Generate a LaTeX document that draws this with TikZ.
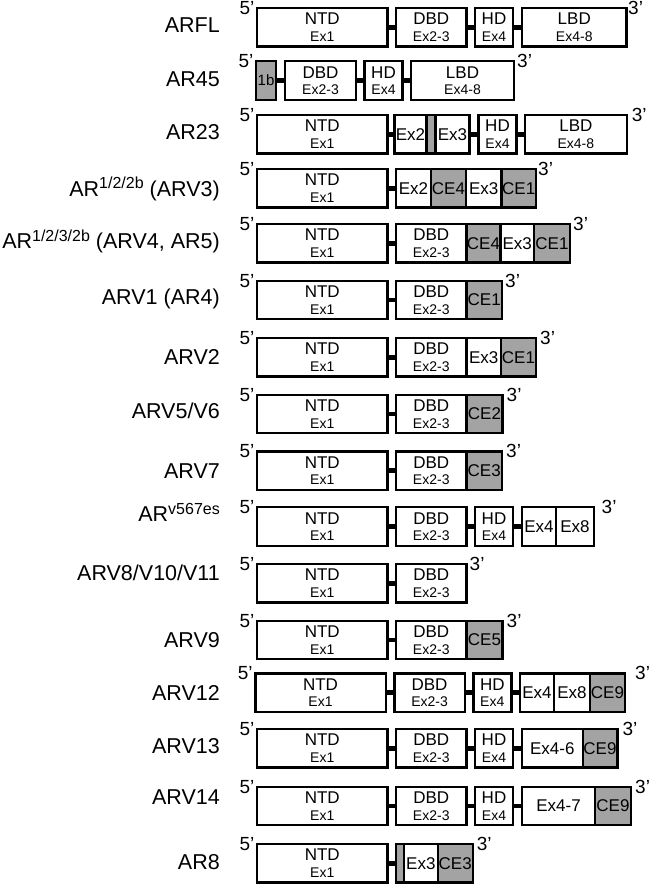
\documentclass[tikz,border=0pt]{standalone}
\usepackage{fontspec}
\setmainfont{Liberation Sans}
\usetikzlibrary{positioning}
\definecolor{cegray}{RGB}{163,163,163}
\newcommand{\twoline}[2]{#1\\{\fontsize{14}{16.5}\selectfont #2}}
\newcommand{\sups}[1]{\raisebox{7.5pt}{\fontsize{16}{16}\selectfont #1}}

\begin{document}
\begin{tikzpicture}[x=1pt,y=-1pt,
    seg/.style={rectangle, draw, line width=2.4pt, minimum height=38.5pt, inner sep=0pt, outer sep=0pt, align=center, font=\fontsize{17}{16.5}\selectfont},
    cseg/.style={seg, fill=cegray},
    link/.style={line width=4.5pt},
    prime/.style={inner sep=0pt, font=\fontsize{19}{19}\selectfont},
    variant/.style={inner sep=0pt, anchor=base east, font=\fontsize{21.5}{21.5}\selectfont}]

    \useasboundingbox (0,0) rectangle (650,885);

    % ARFL
    \node[variant] (lab1) at (220,32.3) {ARFL};
    \node[seg, minimum width=130.5pt, anchor=west] (ntd1) at (257,27.3) {\twoline{NTD}{Ex1}};
    \node[seg, minimum width=70.5pt] (dbd1) [right=8.5pt of ntd1] {\twoline{DBD}{Ex2-3}};
    \node[seg, minimum width=38pt] (hd1) [right=8.5pt of dbd1] {\twoline{HD}{Ex4}};
    \node[seg, minimum width=104.5pt] (lbd1) [right=9pt of hd1] {\twoline{LBD}{Ex4-8}};
    \node[prime, anchor=east] (five1) at ([xshift=-2.5pt]ntd1.north west) {5’};
    \node[prime, anchor=west] (three1) at ([xshift=1.5pt]lbd1.north east) {3’};
    \path[link] (ntd1) edge (dbd1) (dbd1) edge (hd1) (hd1) edge (lbd1);

    % AR45
    \node[variant] (lab2) at (220,87) {AR45};
    \node[cseg, minimum width=20pt, anchor=west, font=\fontsize{15}{15}\selectfont] (b2) at (256,80.5) {1b};
    \node[seg, minimum width=71pt] (dbd2) [right=9pt of b2] {\twoline{DBD}{Ex2-3}};
    \node[seg, minimum width=38pt] (hd2) [right=8.5pt of dbd2] {\twoline{HD}{Ex4}};
    \node[seg, minimum width=103pt] (lbd2) [right=8.5pt of hd2] {\twoline{LBD}{Ex4-8}};
    \node[prime, anchor=east] (five2) at ([xshift=-2.5pt]b2.north west) {5’};
    \node[prime, anchor=west] (three2) at ([xshift=3pt]lbd2.north east) {3’};
    \path[link] (b2) edge (dbd2) (dbd2) edge (hd2) (hd2) edge (lbd2);

    % AR23
    \node[variant] (lab3) at (220,139.5) {AR23};
    \node[seg, minimum width=130.5pt, anchor=west] (ntd3) at (257,134.3) {\twoline{NTD}{Ex1}};
    \node[seg, minimum width=32pt] (exa3) [right=7pt of ntd3] {Ex2};
    \node[cseg, minimum width=9pt] (g3) [right=0pt of exa3] {};
    \node[seg, minimum width=34pt] (exb3) [right=0pt of g3] {Ex3};
    \node[seg, minimum width=38pt] (hd3) [right=9pt of exb3] {\twoline{HD}{Ex4}};
    \node[seg, minimum width=101.7pt] (lbd3) [right=8.5pt of hd3] {\twoline{LBD}{Ex4-8}};
    \node[prime, anchor=east] (five3) at ([xshift=-2.5pt]ntd3.north west) {5’};
    \node[prime, anchor=west] (three3) at ([xshift=5pt]lbd3.north east) {3’};
    \path[link] (ntd3) edge (exa3) (exb3) edge (hd3) (hd3) edge (lbd3);

    % AR1/2/2b
    \node[variant] (lab4) at (220,196.5) {AR\sups{1/2/2b} (ARV3)};
    \node[seg, minimum width=130.5pt, anchor=west] (ntd4) at (257,188.3) {\twoline{NTD}{Ex1}};
    \node[seg, minimum width=35pt] (exa4) [right=8.5pt of ntd4] {Ex2};
    \node[cseg, minimum width=35pt] (cea4) [right=0pt of exa4] {CE4};
    \node[seg, minimum width=35.5pt] (exb4) [right=0pt of cea4] {Ex3};
    \node[cseg, minimum width=34.5pt] (ceb4) [right=0pt of exb4] {CE1};
    \node[prime, anchor=east] (five4) at ([xshift=-2.5pt]ntd4.north west) {5’};
    \node[prime, anchor=west] (three4) at ([xshift=2pt]ceb4.north east) {3’};
    \path[link] (ntd4) edge (exa4);

    % AR1/2/3/2b
    \node[variant] (lab5) at (220,248.5) {AR\sups{1/2/3/2b} (ARV4, AR5)};
    \node[seg, minimum width=130.5pt, anchor=west] (ntd5) at (257,243.3) {\twoline{NTD}{Ex1}};
    \node[seg, minimum width=70.5pt] (dbd5) [right=8.5pt of ntd5] {\twoline{DBD}{Ex2-3}};
    \node[cseg, minimum width=34pt] (cea5) [right=0pt of dbd5] {CE4};
    \node[seg, minimum width=33.5pt] (exb5) [right=0pt of cea5] {Ex3};
    \node[cseg, minimum width=36pt] (ceb5) [right=0pt of exb5] {CE1};
    \node[prime, anchor=east] (five5) at ([xshift=-2.5pt]ntd5.north west) {5’};
    \node[prime, anchor=west] (three5) at ([xshift=3pt]ceb5.north east) {3’};
    \path[link] (ntd5) edge (dbd5);

    % ARV1
    \node[variant] (lab6) at (220,304) {ARV1 (AR4)};
    \node[seg, minimum width=130.5pt, anchor=west] (ntd6) at (257,300) {\twoline{NTD}{Ex1}};
    \node[seg, minimum width=70.5pt] (dbd6) [right=8.5pt of ntd6] {\twoline{DBD}{Ex2-3}};
    \node[cseg, minimum width=35.5pt] (ce6) [right=0pt of dbd6] {CE1};
    \node[prime, anchor=east] (five6) at ([xshift=-2.5pt]ntd6.north west) {5’};
    \node[prime, anchor=west] (three6) at ([xshift=3pt]ce6.north east) {3’};
    \path[link] (ntd6) edge (dbd6);

    % ARV2
    \node[variant] (lab7) at (220,364.5) {ARV2};
    \node[seg, minimum width=130.5pt, anchor=west] (ntd7) at (257,357.3) {\twoline{NTD}{Ex1}};
    \node[seg, minimum width=70.5pt] (dbd7) [right=8.5pt of ntd7] {\twoline{DBD}{Ex2-3}};
    \node[seg, minimum width=34.5pt] (ex7) [right=0pt of dbd7] {Ex3};
    \node[cseg, minimum width=35pt] (ce7) [right=0pt of ex7] {CE1};
    \node[prime, anchor=east] (five7) at ([xshift=-2.5pt]ntd7.north west) {5’};
    \node[prime, anchor=west] (three7) at ([xshift=4pt]ce7.north east) {3’};
    \path[link] (ntd7) edge (dbd7);

    % ARV5/V6
    \node[variant] (lab8) at (220,418.6) {ARV5/V6};
    \node[seg, minimum width=130.5pt, anchor=west] (ntd8) at (257,414) {\twoline{NTD}{Ex1}};
    \node[seg, minimum width=70.5pt] (dbd8) [right=8.5pt of ntd8] {\twoline{DBD}{Ex2-3}};
    \node[cseg, minimum width=36pt] (ce8) [right=0pt of dbd8] {CE2};
    \node[prime, anchor=east] (five8) at ([xshift=-2.5pt]ntd8.north west) {5’};
    \node[prime, anchor=west] (three8) at ([xshift=4pt]ce8.north east) {3’};
    \path[link] (ntd8) edge (dbd8);

    % ARV7
    \node[variant] (lab9) at (220,478.6) {ARV7};
    \node[seg, minimum width=130.5pt, anchor=west] (ntd9) at (257,470.7) {\twoline{NTD}{Ex1}};
    \node[seg, minimum width=70.5pt] (dbd9) [right=8.5pt of ntd9] {\twoline{DBD}{Ex2-3}};
    \node[cseg, minimum width=35.5pt] (ce9) [right=0pt of dbd9] {CE3};
    \node[prime, anchor=east] (five9) at ([xshift=-2.5pt]ntd9.north west) {5’};
    \node[prime, anchor=west] (three9) at ([xshift=4pt]ce9.north east) {3’};
    \path[link] (ntd9) edge (dbd9);

    % ARv567es
    \node[variant] (lab10) at (220,521.8) {AR\sups{v567es}};
    \node[seg, minimum width=130.5pt, anchor=west] (ntd10) at (257,526.5) {\twoline{NTD}{Ex1}};
    \node[seg, minimum width=70.5pt] (dbd10) [right=8.5pt of ntd10] {\twoline{DBD}{Ex2-3}};
    \node[seg, minimum width=38pt] (hd10) [right=8.5pt of dbd10] {\twoline{HD}{Ex4}};
    \node[seg, minimum width=34pt] (exa10) [right=9pt of hd10] {Ex4};
    \node[seg, minimum width=38pt] (exb10) [right=0pt of exa10] {Ex8};
    \node[prime, anchor=east] (five10) at ([xshift=-2.5pt]ntd10.north west) {5’};
    \node[prime, anchor=west] (three10) at ([xshift=7.5pt]exb10.north east) {3’};
    \path[link] (ntd10) edge (dbd10) (dbd10) edge (hd10) (hd10) edge (exa10);

    % ARV8/V10/V11
    \node[variant] (lab11) at (220,580.3) {ARV8/V10/V11};
    \node[seg, minimum width=130.5pt, anchor=west] (ntd11) at (257,583.3) {\twoline{NTD}{Ex1}};
    \node[seg, minimum width=70.5pt] (dbd11) [right=8.5pt of ntd11] {\twoline{DBD}{Ex2-3}};
    \node[prime, anchor=east] (five11) at ([xshift=-2.5pt]ntd11.north west) {5’};
    \node[prime, anchor=west] (three11) at ([xshift=3pt]dbd11.north east) {3’};
    \path[link] (ntd11) edge (dbd11);

    % ARV9
    \node[variant] (lab12) at (220,647) {ARV9};
    \node[seg, minimum width=130.5pt, anchor=west] (ntd12) at (257,640) {\twoline{NTD}{Ex1}};
    \node[seg, minimum width=70.5pt] (dbd12) [right=8.5pt of ntd12] {\twoline{DBD}{Ex2-3}};
    \node[cseg, minimum width=36pt] (ce12) [right=0pt of dbd12] {CE5};
    \node[prime, anchor=east] (five12) at ([xshift=-2.5pt]ntd12.north west) {5’};
    \node[prime, anchor=west] (three12) at ([xshift=4pt]ce12.north east) {3’};
    \path[link] (ntd12) edge (dbd12);

    % ARV12
    \node[variant] (lab13) at (220,700.3) {ARV12};
    \node[seg, minimum width=130.5pt, anchor=west] (ntd13) at (255.3,692.7) {\twoline{NTD}{Ex1}};
    \node[seg, minimum width=70.5pt] (dbd13) [right=8.5pt of ntd13] {\twoline{DBD}{Ex2-3}};
    \node[seg, minimum width=38pt] (hd13) [right=8.5pt of dbd13] {\twoline{HD}{Ex4}};
    \node[seg, minimum width=34pt] (exa13) [right=8.7pt of hd13] {Ex4};
    \node[seg, minimum width=36pt] (exb13) [right=0pt of exa13] {Ex8};
    \node[cseg, minimum width=35pt] (ce13) [right=0pt of exb13] {CE9};
    \node[prime, anchor=east] (five13) at ([xshift=-2.5pt]ntd13.north west) {5’};
    \node[prime, anchor=west] (three13) at ([xshift=10pt]ce13.north east) {3’};
    \path[link] (ntd13) edge (dbd13) (dbd13) edge (hd13) (hd13) edge (exa13);

    % ARV13
    \node[variant] (lab14) at (220,753.5) {ARV13};
    \node[seg, minimum width=130.5pt, anchor=west] (ntd14) at (257,748.3) {\twoline{NTD}{Ex1}};
    \node[seg, minimum width=70.5pt] (dbd14) [right=8.5pt of ntd14] {\twoline{DBD}{Ex2-3}};
    \node[seg, minimum width=38pt] (hd14) [right=8.5pt of dbd14] {\twoline{HD}{Ex4}};
    \node[seg, minimum width=60.7pt] (ex14) [right=9pt of hd14] {Ex4-6};
    \node[cseg, minimum width=34.6pt] (ce14) [right=0pt of ex14] {CE9};
    \node[prime, anchor=east] (five14) at ([xshift=-2.5pt]ntd14.north west) {5’};
    \node[prime, anchor=west] (three14) at ([xshift=5pt]ce14.north east) {3’};
    \path[link] (ntd14) edge (dbd14) (dbd14) edge (hd14) (hd14) edge (ex14);

    % ARV14
    \node[variant] (lab15) at (220,804.5) {ARV14};
    \node[seg, minimum width=130.5pt, anchor=west] (ntd15) at (257,806) {\twoline{NTD}{Ex1}};
    \node[seg, minimum width=70.5pt] (dbd15) [right=8.5pt of ntd15] {\twoline{DBD}{Ex2-3}};
    \node[seg, minimum width=38pt] (hd15) [right=8.5pt of dbd15] {\twoline{HD}{Ex4}};
    \node[seg, minimum width=73pt] (ex15) [right=9pt of hd15] {Ex4-7};
    \node[cseg, minimum width=36pt] (ce15) [right=0pt of ex15] {CE9};
    \node[prime, anchor=east] (five15) at ([xshift=-2.5pt]ntd15.north west) {5’};
    \node[prime, anchor=west] (three15) at ([xshift=4pt]ce15.north east) {3’};
    \path[link] (ntd15) edge (dbd15) (dbd15) edge (hd15) (hd15) edge (ex15);

    % AR8
    \node[variant] (lab16) at (220,869.5) {AR8};
    \node[seg, minimum width=130.5pt, anchor=west] (ntd16) at (257,863.3) {\twoline{NTD}{Ex1}};
    \node[cseg, minimum width=8pt] (g16) [right=8.5pt of ntd16] {};
    \node[seg, minimum width=33.7pt] (ex16) [right=0pt of g16] {Ex3};
    \node[cseg, minimum width=35pt] (ce16) [right=0pt of ex16] {CE3};
    \node[prime, anchor=east] (five16) at ([xshift=-2.5pt]ntd16.north west) {5’};
    \node[prime, anchor=west] (three16) at ([xshift=4pt]ce16.north east) {3’};
    \path[link] (ntd16) edge (g16);
\end{tikzpicture}
\end{document}
